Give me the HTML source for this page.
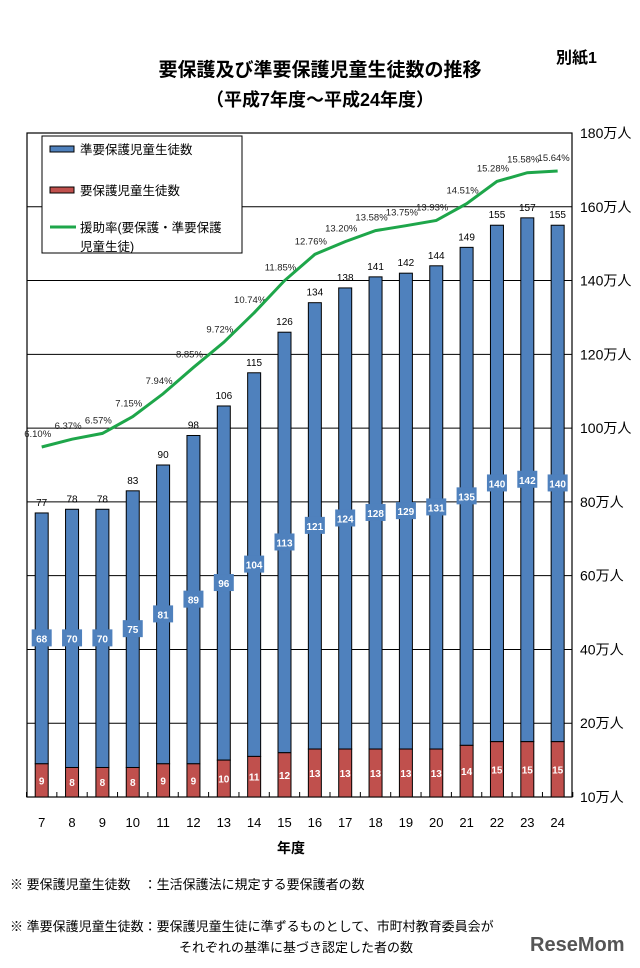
<!DOCTYPE html>
<html><head><meta charset="utf-8">
<style>
body{margin:0;background:#fff;font-family:"Liberation Sans","Noto Sans CJK JP",sans-serif;}
#wrap{position:relative;width:640px;height:968px;overflow:hidden;}
.t{position:absolute;white-space:nowrap;color:#000;}
</style></head>
<body>
<div id="wrap">
<div class="t" style="left:0;width:640px;text-align:center;top:55px;font-size:19px;font-weight:bold;">要保護及び準要保護児童生徒数の推移</div>
<div class="t" style="left:0;width:640px;text-align:center;top:86px;font-size:18px;font-weight:bold;">（平成7年度～平成24年度）</div>
<div class="t" style="left:556px;top:44px;font-size:16px;font-weight:bold;">別紙1</div>
<svg id="chart" width="640" height="968" style="position:absolute;left:0;top:0"></svg>
<div class="t" style="left:10px;top:874px;font-size:13px;">※ 要保護児童生徒数　：生活保護法に規定する要保護者の数</div>
<div class="t" style="left:10px;top:916px;font-size:13px;line-height:21px;">※ 準要保護児童生徒数：要保護児童生徒に準ずるものとして、市町村教育委員会が<br><span style="padding-left:169px">それぞれの基準に基づき認定した者の数</span></div>
<div class="t" style="left:530px;top:934px;font-size:20px;font-weight:bold;color:#555;">ReseMom</div>
</div>
<script>
const years=["7","8","9","10","11","12","13","14","15","16","17","18","19","20","21","22","23","24"];
const totals=[77,78,78,83,90,98,106,115,126,134,138,141,142,144,149,155,157,155];
const youhogo=[9,8,8,8,9,9,10,11,12,13,13,13,13,13,14,15,15,15];
const junYouhogo=[68,70,70,75,81,89,96,104,113,121,124,128,129,131,135,140,142,140];
const rates=[6.10,6.37,6.57,7.15,7.94,8.85,9.72,10.74,11.85,12.76,13.20,13.58,13.75,13.93,14.51,15.28,15.58,15.64];
const yTickLabels=["10万人","20万人","40万人","60万人","80万人","100万人","120万人","140万人","160万人","180万人"];
const yTickValues=[0,20,40,60,80,100,120,140,160,180];

const svg=document.getElementById('chart');
const NS='http://www.w3.org/2000/svg';
const L=27,R=572,B=797,T=133;
const y=v=>B-v*(B-T)/180;
const x=i=>41.7+i*30.35;
const yr=r=>447-(r-6.10)*28.93;
function mk(tag,a){const e=document.createElementNS(NS,tag);for(const k in a)e.setAttribute(k,a[k]);svg.appendChild(e);return e;}
function tx(s,xx,yy,a){const e=mk('text',Object.assign({x:xx,y:yy,'font-family':'"Liberation Sans","Noto Sans CJK JP",sans-serif'},a));e.textContent=s;return e;}

yTickValues.forEach((v,i)=>{
  if(v>0&&v<180){const g=mk('line',{x1:L,x2:R,y1:y(v),y2:y(v),stroke:'#000','stroke-width':1});
  
  }
  const t=tx(yTickLabels[i],580,y(v)+5,{'font-size':14});
  
  
});
const frame=mk('rect',{x:L,y:T,width:R-L,height:B-T,fill:'none',stroke:'#000','stroke-width':1.2});


for(let i=0;i<=years.length;i++){const xx=x(i)-15.2;const tk=mk('line',{x1:xx,x2:xx,y1:B,y2:B-5,stroke:'#000'});

}

years.forEach((yrS,i)=>{
  const w=13,cx=x(i);
  const b=mk('rect',{x:cx-w/2,y:y(totals[i]),width:w,height:y(youhogo[i])-y(totals[i]),fill:'#4f81bd',stroke:'#000','stroke-width':1});
  
  
  const r=mk('rect',{x:cx-w/2,y:y(youhogo[i]),width:w,height:B-y(youhogo[i]),fill:'#c0504d',stroke:'#000','stroke-width':1});
  
  
  const tt=tx(String(totals[i]),cx,y(totals[i])-7,{'font-size':10,'text-anchor':'middle'});
  
  
  const my=(y(totals[i])+y(youhogo[i]))/2;
  const bx=mk('rect',{x:cx-10,y:my-9,width:20,height:17,fill:'#4f81bd'});
  
  
  const jl=tx(String(junYouhogo[i]),cx,my+4,{'font-size':10,'font-weight':'bold',fill:'#fff','text-anchor':'middle'});
  
  
  const rl=tx(String(youhogo[i]),cx,(y(youhogo[i])+B)/2+4,{'font-size':10,'font-weight':'bold',fill:'#fff','text-anchor':'middle'});
  
  
  const xl=tx(yrS,cx,827,{'font-size':13,'text-anchor':'middle'});
  
  
  const pl=tx(rates[i].toFixed(2)+'%',cx-4,yr(rates[i])-10,{'font-size':9.5,'text-anchor':'middle',fill:'#222'});
  
  
});
const line=mk('polyline',{points:rates.map((r,i)=>x(i)+','+yr(r)).join(' '),fill:'none',stroke:'#1ea64a','stroke-width':3});


const xt=tx('年度',291,853,{'font-size':14,'font-weight':'bold','text-anchor':'middle'});



// legend
const lg=mk('rect',{x:42,y:136,width:200,height:117,fill:'#fff',stroke:'#000','stroke-width':1});


const l1=mk('rect',{x:50,y:146,width:24,height:6,fill:'#4f81bd',stroke:'#000'});


const lt1=tx('準要保護児童生徒数',80,154,{'font-size':12.5});


const l2=mk('rect',{x:50,y:187,width:24,height:6,fill:'#c0504d',stroke:'#000'});


const lt2=tx('要保護児童生徒数',80,195,{'font-size':12.5});


const l3=mk('line',{x1:50,x2:76,y1:227,y2:227,stroke:'#1ea64a','stroke-width':3});


const lt3=tx('援助率(要保護・準要保護',80,232,{'font-size':12.5});


const lt4=tx('児童生徒)',80,251,{'font-size':12.5});


</script>
</body></html>
